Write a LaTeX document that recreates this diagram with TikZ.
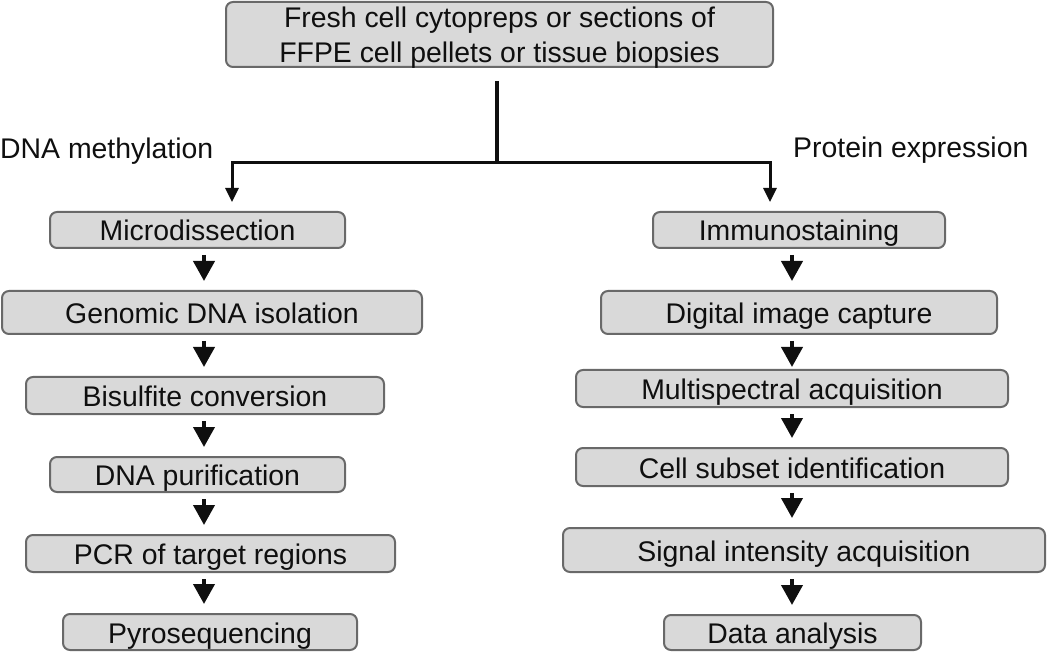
\documentclass[tikz,border=0pt]{standalone}
\usepackage{fontspec}
\setmainfont{Liberation Sans}
\usepackage{xcolor}
\usetikzlibrary{arrows.meta}
\definecolor{boxfill}{RGB}{217,217,217}
\definecolor{boxline}{RGB}{105,105,105}
\definecolor{ink}{RGB}{15,15,15}

\begin{document}
\begin{tikzpicture}[x=1pt, y=-1pt,
    stepbox/.style={draw=boxline, line width=2pt, fill=boxfill, rounded corners=7pt,
      inner sep=0pt, text=ink, font=\fontsize{28.4}{35}\selectfont,
      text height=26pt, text depth=4pt},
    branch/.style={font=\fontsize{28.4}{35}\selectfont, text=ink, inner sep=0pt, anchor=base west},
    flow/.style={-{Triangle[length=20pt,width=21pt]}, line width=4pt, draw=ink,
      shorten <=6pt, shorten >=9pt},
    fork/.style={-{Triangle[length=14pt,width=13pt]}, line width=3pt, draw=ink}]
    \useasboundingbox (0,0) rectangle (1050,652);
    % source
    \node[stepbox, align=center, minimum width=547pt, minimum height=65pt,
      text height=61pt, text depth=4pt] (src) at (499.5,34.5)
      {Fresh cell cytopreps or sections of\\FFPE cell pellets or tissue biopsies};
    \node[branch] (meth) at (0,159) {DNA methylation};
    \node[branch] (prot) at (793,158) {Protein expression};
    % methylation branch
    \node[stepbox, minimum width=295pt, minimum height=36pt] (mic) at (197.5,230) {Microdissection};
    \node[stepbox, minimum width=420pt, minimum height=43pt] (gen) at (212,312.5) {Genomic DNA isolation};
    \node[stepbox, minimum width=358pt, minimum height=37pt] (bis) at (205,395.5) {Bisulfite conversion};
    \node[stepbox, minimum width=295pt, minimum height=35pt] (pur) at (197.5,474.5) {DNA purification};
    \node[stepbox, minimum width=369pt, minimum height=37pt] (pcr) at (210.5,553.5) {PCR of target regions};
    \node[stepbox, minimum width=294pt, minimum height=36pt] (pyr) at (210,632) {Pyrosequencing};
    % protein branch
    \node[stepbox, minimum width=292pt, minimum height=36pt] (imm) at (799,230) {Immunostaining};
    \node[stepbox, minimum width=396pt, minimum height=43pt] (dig) at (799,312.5) {Digital image capture};
    \node[stepbox, minimum width=432pt, minimum height=37pt] (mul) at (792,388.5) {Multispectral acquisition};
    \node[stepbox, minimum width=432pt, minimum height=38pt] (cel) at (792,467) {Cell subset identification};
    \node[stepbox, minimum width=482pt, minimum height=44pt] (sig) at (804,550) {Signal intensity acquisition};
    \node[stepbox, minimum width=257pt, minimum height=35pt] (dat) at (792.5,632.5) {Data analysis};
    % split
    \coordinate (split) at (497,163);
    \coordinate (lfork) at (232,163);
    \coordinate (rfork) at (770,163);
    \coordinate (lx) at (204,0);
    \coordinate (rx) at (792,0);
    \draw[line width=4pt, ink] ([yshift=-13pt]src.south -| split) -- ([yshift=-1.5pt]split);
    \draw[fork] (split) -- (lfork) -- ([yshift=9pt]mic.north -| lfork);
    \draw[fork] (split) -- (rfork) -- ([yshift=9pt]imm.north -| rfork);
    % steps
    \draw[flow] (mic.south -| lx) -- (gen.north -| lx);
    \draw[flow] (gen.south -| lx) -- (bis.north -| lx);
    \draw[flow] (bis.south -| lx) -- (pur.north -| lx);
    \draw[flow] (pur.south -| lx) -- (pcr.north -| lx);
    \draw[flow] (pcr.south -| lx) -- (pyr.north -| lx);
    \draw[flow] (imm.south -| rx) -- (dig.north -| rx);
    \draw[flow, shorten >=2pt] (dig.south -| rx) -- (mul.north -| rx);
    \draw[flow] (mul.south -| rx) -- (cel.north -| rx);
    \draw[flow] (cel.south -| rx) -- (sig.north -| rx);
    \draw[flow] (sig.south -| rx) -- (dat.north -| rx);
\end{tikzpicture}
\end{document}
